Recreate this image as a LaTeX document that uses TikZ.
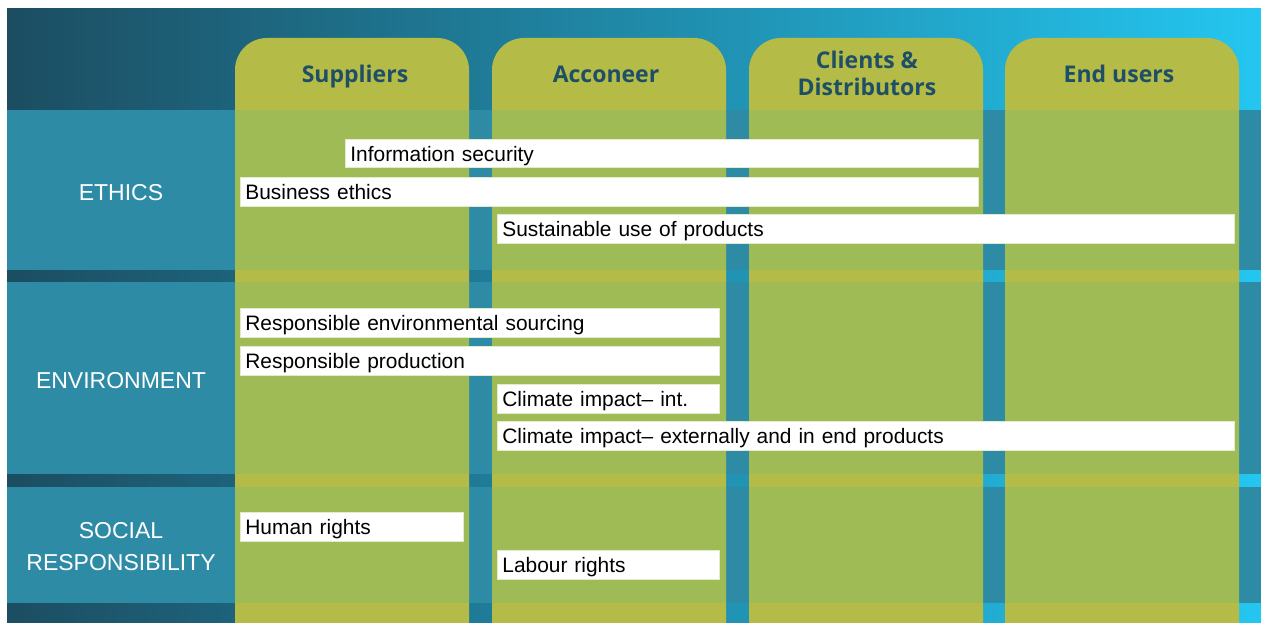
\documentclass[tikz,border=0pt]{standalone}
\usepackage{fontspec}
\setmainfont{Liberation Sans}
\newfontfamily\headfont{Open Sans}

\definecolor{bgdark}{RGB}{28,77,97}
\definecolor{bgmid}{RGB}{31,112,140}
\definecolor{bglight}{RGB}{36,198,240}
\definecolor{rowteal}{RGB}{46,139,165}
\definecolor{cololive}{RGB}{181,187,71}
\definecolor{colgreen}{RGB}{159,187,86}
\definecolor{headtext}{RGB}{30,79,102}
\definecolor{boxline}{RGB}{225,236,205}

\begin{document}
\begin{tikzpicture}[x=1pt, y=-1pt,
  rowlabel/.style={text=white, align=center, anchor=base, font=\fontsize{23}{31.7}\selectfont},
  colhead/.style={text=headtext, align=center, anchor=base, font=\headfont\bfseries\fontsize{23}{27.4}\selectfont},
  item/.style={draw=boxline, line width=0.8pt, fill=white, anchor=north west,
    inner xsep=5pt, inner ysep=0pt, minimum height=28.5pt,
    text height=15pt, text depth=0pt, align=left, font=\fontsize{20.9}{24}\selectfont}]
  \useasboundingbox (0,0) rectangle (1261,623);
  \clip (0,0) rectangle (1261,623);

  % Background
  \fill[white] (0,0) rectangle (1261,623);
  \shade[left color=bgdark, middle color=bgmid, right color=bglight]
    (7,9) rectangle (1261,623);

  % Rows
  \foreach \ya/\yb in {110/270, 282/474, 487/603}
    \fill[rowteal] (7,\ya) rectangle (1261,\yb);

  % Columns
  \foreach \cx in {235,492,749,1005} {
    \fill[cololive, rounded corners=32pt] (\cx,38) rectangle ++(234,700);
    \foreach \ya/\yb in {110/270, 282/474, 487/603}
      \fill[colgreen] (\cx,\ya) rectangle (\cx+234,\yb);
  }

  % Column headings
  \node[colhead] (suppliers) at (355,82.7) {Suppliers};
  \node[colhead] (acconeer) at (606,82.7) {Acconeer};
  \node[colhead] (clients) at (867,95.7) {Clients \&\\Distributors};
  \node[colhead] (endusers) at (1119,82.7) {End users};

  % Row headings
  \node[rowlabel] (ethics) at (121,200) {ETHICS};
  \node[rowlabel] (environment) at (121,388.5) {ENVIRONMENT};
  \node[rowlabel] (social) at (121,570) {SOCIAL\\RESPONSIBILITY};

  % Topics
  \node[item, text width=623pt] (infosec) at (345,139) {Information security};
  \node[item, text width=728pt] (busethics) at (240,177) {Business ethics};
  \node[item, text width=727pt] (sustuse) at (497,214) {Sustainable use of products};

  \node[item, text width=469pt] (sourcing) at (240,308) {Responsible environmental sourcing};
  \node[item, text width=469pt] (production) at (240,346) {Responsible production};
  \node[item, text width=212pt] (climint) at (497,384) {Climate impact– int.};
  \node[item, text width=727pt] (climext) at (497,421) {Climate impact– externally and in end products};

  \node[item, text width=213pt] (humanrights) at (240,512) {Human rights};
  \node[item, text width=212pt] (labour) at (497,550) {Labour rights};
\end{tikzpicture}
\end{document}
